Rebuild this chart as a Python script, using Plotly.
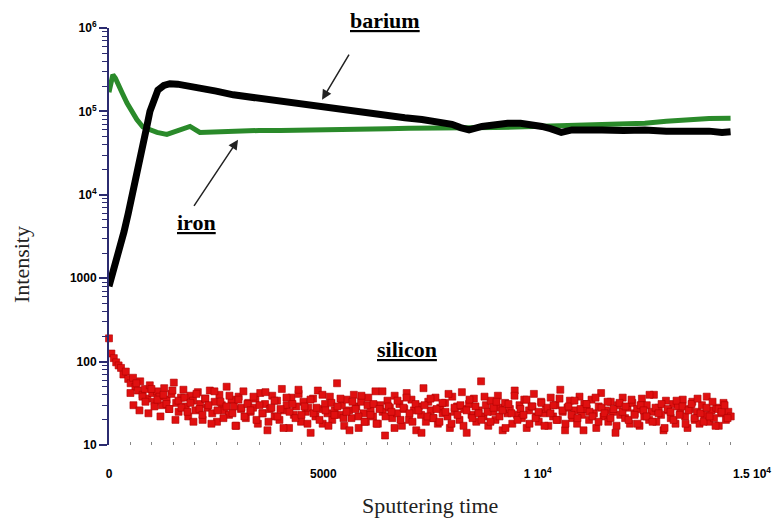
import plotly.graph_objects as go

# ---------------- data ----------------
barium_t = [0, 80, 160, 256, 350, 450, 560, 680, 800, 880,
            955, 1040, 1140, 1280, 1420, 1600, 1800, 2100, 2500, 2900,
            3300, 3700, 4100, 4500, 4900, 5300, 5700, 6100, 6500, 6900,
            7300, 7700, 8000, 8200, 8400, 8700, 9000, 9300, 9600, 9900,
            10100, 10300, 10550, 10800, 11100, 11500, 12000, 12500, 13000, 13500,
            14000, 14300, 14500]
barium_v = [800, 1100, 1500, 2300, 3600, 6000, 10500, 20000, 40000, 65000,
            100000, 140000, 180000, 205000, 215000, 212000, 205000, 190000, 175000, 158000,
            148000, 138000, 130000, 123000, 115000, 106000, 98000, 92000, 88000, 84000,
            80000, 75000, 70000, 64000, 60000, 66000, 70000, 72000, 72000, 70000,
            66000, 62000, 56000, 60000, 61000, 60000, 59000, 60000, 58000, 59000,
            58000, 56000, 57000]

iron_t = [0, 40, 90, 150, 210, 300, 420, 530, 650, 790,
          950, 1120, 1350, 1600, 1890, 2120, 2500, 3000, 3500, 4000,
          4500, 5000, 5500, 6000, 6500, 7000, 7500, 8000, 8500, 9000,
          9500, 10000, 10500, 11000, 11500, 12000, 12500, 13000, 13500, 14000,
          14500]
iron_v = [170000, 200000, 275000, 250000, 220000, 170000, 126000, 100000, 80000, 65000,
          60000, 56000, 53000, 58000, 66000, 56000, 57000, 58000, 59000, 59000,
          60000, 60000, 61000, 61000, 62000, 63000, 63000, 64000, 62000, 64000,
          65000, 66000, 66000, 68000, 69000, 70000, 72000, 76000, 80000, 82000,
          83000]

silicon_v = [
    190, 125, 110, 98, 90, 84, 70, 76, 62, 55, 64, 50, 45, 58, 40, 47, 36, 52, 42, 33,
    44, 38, 30, 48, 35, 27, 41, 56, 32, 25, 37, 46, 29, 22, 39, 34, 26, 43, 31, 20,
    36, 28, 45, 24, 33, 19, 40, 30, 26, 50, 23, 35, 29, 17, 38, 27, 44, 21, 32, 25,
    28, 36, 18, 42, 24, 31, 15, 27, 39, 22, 34, 20, 47, 26, 30, 16, 37, 23, 29, 41,
    19, 33, 25, 28, 14, 36, 22, 45, 27, 18, 31, 24, 38, 20, 26, 55, 23, 30, 17, 35,
    26, 21, 40, 29, 16, 33, 24, 19, 37, 27, 22, 44, 18, 30, 25, 13, 34, 28, 21, 39,
    24, 31, 17, 27, 42, 20, 35, 26, 15, 29, 23, 48, 19, 33, 26, 21, 37, 18, 28, 24,
    32, 22, 16, 38, 25, 29, 20, 43, 27, 14, 31, 23, 36, 19, 26, 58, 22, 30, 17, 34,
    25, 20, 39, 28, 15, 32, 24, 27, 18, 45, 23, 30, 21, 35, 16, 26, 29, 41, 22, 19,
    33, 24, 27, 17, 37, 22, 30, 20, 46, 25, 15, 28, 34, 21, 26, 18, 38, 23, 31, 27,
    20, 35, 24, 16, 29, 42, 22, 26, 19, 33, 25, 14, 30, 23, 37, 21, 28, 18, 32, 24,
    27, 17, 36, 22, 30, 20, 25, 40, 19, 28, 23, 15, 34, 26, 21, 31, 18, 29, 24, 35,
    22, 16, 27, 33, 20, 25, 18, 30, 23, 38, 19, 26, 21, 28, 17, 24, 32, 20, 25, 22,
]
silicon_step = 56
silicon_t = [i * silicon_step for i in range(len(silicon_v))]

silicon2_v = [
    42, 30, 55, 26, 38, 33, 24, 47, 29, 35, 22, 40, 31, 27, 45, 20, 34, 28, 37, 25,
    32, 19, 41, 27, 23, 36, 30, 18, 44, 26, 33, 21, 29, 39, 24, 17, 35, 28, 22, 31,
    26, 38, 20, 30, 24, 43, 19, 28, 34, 22, 27, 16, 37, 25, 31, 21, 46, 23, 29, 18,
    35, 24, 28, 20, 40, 26, 17, 32, 23, 29, 36, 21, 25, 15, 33, 27, 22, 39, 19, 30,
    23, 31, 18, 27, 44, 22, 29, 25, 16, 34, 20, 28, 37, 24, 19, 31, 26, 14, 30, 22,
    36, 21, 27, 19, 32, 25, 41, 18, 28, 23, 30, 17, 26, 35, 21, 29, 24, 20, 38, 25,
    19, 28, 33, 22, 26, 16, 31, 24, 39, 20, 27, 23, 35, 18, 29, 21, 25, 32, 17, 28,
    24, 30, 20, 36, 26, 18, 29, 23, 34, 21, 27, 15, 31, 25, 22, 37, 19, 28, 24, 33,
    21, 27, 17, 32, 25, 29, 20, 35, 23, 18, 30, 26, 22, 40, 19, 28, 24, 31, 16, 27,
    25, 20, 34, 23, 29, 18, 26, 31, 21, 36, 24, 19, 28, 22, 33, 17, 27, 25, 30, 21,
]
silicon2_start = 500
silicon2_step = 70
silicon2_t = [silicon2_start + i * silicon2_step for i in range(len(silicon2_v))]

y_tickvals = [10, 100, 1000, 1e4, 1e5, 1e6]
y_ticktext = ["10", "100", "1000", "10<sup>4</sup>", "10<sup>5</sup>", "10<sup>6</sup>"]
x_tickvals = [0, 5000, 10000, 15000]
x_ticktext = ["0", "5000", "1 10<sup>4</sup>", "1.5 10<sup>4</sup>"]

# ---------------- figure ----------------
fig = go.Figure()
fig.add_trace(go.Scatter(x=iron_t, y=iron_v, mode="lines",
                         line=dict(color="#2a8a2a", width=5), cliponaxis=False,
                         showlegend=False))
fig.add_trace(go.Scatter(x=barium_t, y=barium_v, mode="lines",
                         line=dict(color="#000000", width=7), cliponaxis=False,
                         showlegend=False))
si_marker = dict(symbol="square", size=7, color="#e01010",
                 line=dict(color="#b00000", width=0.6))
fig.add_trace(go.Scatter(x=silicon_t, y=silicon_v, mode="markers", marker=si_marker,
                         cliponaxis=False, showlegend=False))
fig.add_trace(go.Scatter(x=silicon2_t, y=silicon2_v, mode="markers", marker=si_marker,
                         cliponaxis=False, showlegend=False))

minor_vals = [m * 10 ** k for k in range(1, 6) for m in range(2, 10)]
navy = "#2b2b70"

fig.update_yaxes(type="log", range=[1, 6], showline=True, linecolor=navy, linewidth=2,
                 showgrid=False, zeroline=False, tickmode="array",
                 tickvals=y_tickvals, ticktext=y_ticktext, ticks="outside",
                 ticklen=8, tickcolor=navy, tickwidth=1.5,
                 tickfont=dict(family="Liberation Sans", size=12, color="black", weight="bold"),
                 minor=dict(tickmode="array", tickvals=minor_vals, ticks="outside",
                            ticklen=5, tickcolor=navy, tickwidth=1, showgrid=False))
fig.update_xaxes(range=[0, 15000], showline=False, showgrid=False, zeroline=False,
                 tickmode="array", tickvals=x_tickvals, ticktext=x_ticktext,
                 ticks="inside", ticklen=2, tickcolor="#888888",
                 ticklabelstandoff=20,
                 tickfont=dict(family="Liberation Sans", size=12, color="black", weight="bold"),
                 minor=dict(dtick=500, ticks="inside", ticklen=3, tickcolor="#888888",
                            showgrid=False))

lab_font = dict(family="Liberation Serif", size=22, color="black")
fig.add_annotation(x=0.429, y=1.019, xref="paper", yref="paper", text="<b><u>barium</u></b>",
                   xanchor="center", yanchor="middle", showarrow=False, font=lab_font)
fig.add_annotation(x=2050, y=3.67, xref="x", yref="y", text="<b><u>iron</u></b>",
                   xanchor="center", yanchor="middle", showarrow=False, font=lab_font)
fig.add_annotation(x=6950, y=2.14, xref="x", yref="y", text="<b><u>silicon</u></b>",
                   xanchor="center", yanchor="middle", showarrow=False, font=lab_font)
# arrows
fig.add_annotation(x=4970, y=5.14, xref="x", yref="y", ax=5620, ay=5.70,
                   axref="x", ayref="y", text="", showarrow=True, arrowhead=2,
                   arrowsize=1.3, arrowwidth=1.5, arrowcolor="#222222")
fig.add_annotation(x=3010, y=4.66, xref="x", yref="y", ax=1960, ay=3.85,
                   axref="x", ayref="y", text="", showarrow=True, arrowhead=2,
                   arrowsize=1.3, arrowwidth=1.5, arrowcolor="#222222")

title_font = dict(family="Liberation Serif", size=22, color="#222222")
fig.add_annotation(x=-0.135, y=0.432, xref="paper", yref="paper", text="Intensity",
                   xanchor="center", yanchor="middle",
                   textangle=-90, showarrow=False, font=title_font)
fig.add_annotation(x=0.499, y=-0.144, xref="paper", yref="paper", text="Sputtering time",
                   xanchor="center", yanchor="middle", showarrow=False, font=title_font)

fig.update_layout(width=782, height=519, margin=dict(l=109, r=30, t=28, b=74),
                  plot_bgcolor="white", paper_bgcolor="white")

fig.write_html("out.html")
